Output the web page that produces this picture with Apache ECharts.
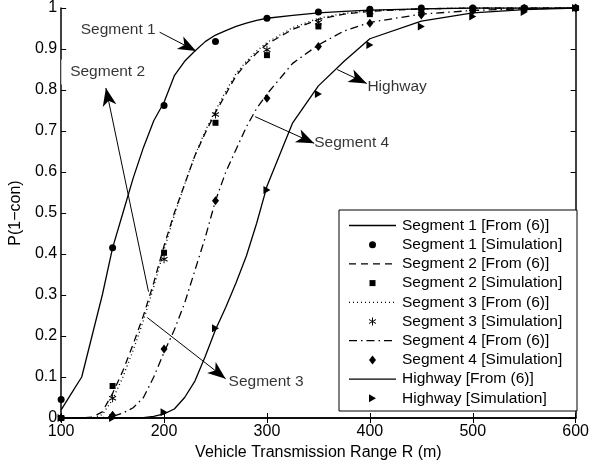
<!DOCTYPE html>
<html><head><meta charset="utf-8">
<script src="https://cdn.jsdelivr.net/npm/echarts@6/dist/echarts.min.js"></script>
<style>html,body{margin:0;padding:0;background:#fff}#c{width:592px;height:466px}</style>
</head><body><div id="c"></div>
<script>
// ---- data ----
const curveR = [100,110,120,130,140,150,160,170,180,190,200,210,220,230,240,250,260,270,280,290,300,325,350,375,400,450,500,550,600];
const seg1Curve = [0.02,0.06,0.10,0.20,0.30,0.415,0.50,0.585,0.66,0.725,0.77,0.835,0.87,0.895,0.918,0.934,0.945,0.955,0.963,0.97,0.975,0.982,0.988,0.992,0.995,0.998,1,1,1];
const seg2Curve = [0,0,0,0.002,0.015,0.06,0.115,0.18,0.25,0.33,0.42,0.5,0.57,0.64,0.695,0.745,0.79,0.835,0.865,0.89,0.912,0.948,0.972,0.985,0.992,0.998,1,1,1];
const seg3Curve = [0,0,0,0,0.008,0.045,0.1,0.165,0.238,0.32,0.41,0.495,0.57,0.64,0.7,0.75,0.797,0.84,0.87,0.895,0.916,0.952,0.975,0.987,0.993,0.998,1,1,1];
const seg4Curve = [0,0,0,0,0.001,0.004,0.012,0.025,0.05,0.1,0.16,0.215,0.28,0.36,0.44,0.53,0.6,0.655,0.71,0.755,0.79,0.865,0.91,0.944,0.965,0.985,0.994,0.998,1];
const hwCurve   = [0,0,0,0,0,0,0,0,0.001,0.004,0.01,0.022,0.05,0.09,0.15,0.215,0.27,0.33,0.395,0.475,0.565,0.72,0.81,0.87,0.925,0.968,0.988,0.996,1];

const simR = [100,150,200,250,300,350,400,450,500,550,600];
const seg1Sim = [0.045,0.415,0.762,0.918,0.975,0.99,0.997,1,1,1,1];
const seg2Sim = [0,0.078,0.403,0.72,0.885,0.955,0.985,0.99,0.995,0.998,1];
const seg3Sim = [0,0.048,0.387,0.74,0.898,0.965,0.99,0.993,0.998,1,1];
const seg4Sim = [0,0.007,0.168,0.53,0.78,0.906,0.963,0.983,0.993,0.998,1];
const hwSim   = [0,0,0.014,0.219,0.556,0.79,0.91,0.955,0.979,0.99,1];

const xTickLabels = ['100','200','300','400','500','600'];
const yTickLabels = ['0','0.1','0.2','0.3','0.4','0.5','0.6','0.7','0.8','0.9','1'];

const seriesNames = ['Segment 1 [From (6)]','Segment 1 [Simulation]','Segment 2 [From (6)]','Segment 2 [Simulation]','Segment 3 [From (6)]','Segment 3 [Simulation]','Segment 4 [From (6)]','Segment 4 [Simulation]','Highway [From (6)]','Highway [Simulation]'];

// annotations (data coordinates)
const annText = ['Segment 1','Segment 2','Segment 3','Segment 4','Highway'];
const annTextAt = [[191.9,0.946],[100,0.844],[262.7,0.089],[345.9,0.672],[397.6,0.808]];
const annTextSide = ['left','right','right','right','right'];
const annFrom = [[195.7,0.941],[184.9,0.308],[183.7,0.245],[288.5,0.735],[368.2,0.85]];
const annTo   = [[231.1,0.895],[143.5,0.805],[259.8,0.096],[345.9,0.67],[397,0.816]];

// ---- styles ----
const FONT = 'Liberation Sans, Arial, Helvetica, sans-serif';
const dashes = { solid: 'solid', dash: [7,5], dot: [1,3], dashdot: [8,4,1.5,4] };
const STAR = 'path://M0,-4L0,4M-3.5,-2L3.5,2M-3.5,2L3.5,-2';
const TRI = 'path://M0,0L9,5L0,10Z';
// arrowhead: tip at the centre of a padded 30x30 box, so the tip sits on the line end
const ARROW = 'path://M-15,-15M15,15M0,0L5.8,15L0,11L-5.8,15Z';

const zip = (xs, ys) => xs.map((x, i) => [x, ys[i]]);

function lineSeries(name, ys, dash) {
  return { name, type: 'line', data: zip(curveR, ys), symbol: 'none', smooth: false,
    lineStyle: { color: '#000', width: 1.3, type: dash }, z: 3, animation: false };
}
function simSeries(name, ys, symbol, size) {
  return { name, type: 'scatter', data: zip(simR, ys), symbol, symbolSize: size,
    itemStyle: { color: '#000', borderColor: '#000', borderWidth: symbol === STAR ? 1 : 0, opacity: 1 }, z: 4, animation: false };
}

const series = [
  lineSeries(seriesNames[0], seg1Curve, dashes.solid),
  lineSeries(seriesNames[2], seg2Curve, dashes.dash),
  lineSeries(seriesNames[4], seg3Curve, dashes.dot),
  lineSeries(seriesNames[6], seg4Curve, dashes.dashdot),
  lineSeries(seriesNames[8], hwCurve, dashes.solid),
  simSeries(seriesNames[1], seg1Sim, 'circle', 7),
  simSeries(seriesNames[3], seg2Sim, 'rect', 6),
  simSeries(seriesNames[5], seg3Sim, STAR, [7,8]),
  simSeries(seriesNames[7], seg4Sim, 'diamond', [7,9]),
  simSeries(seriesNames[9], hwSim, TRI, [7,8]),
  {
    name: 'annotations', type: 'scatter', symbolSize: 0, z: 6, animation: false, silent: true,
    data: annText.map((t, i) => ({
      name: t, value: annTextAt[i],
      label: { show: true, position: annTextSide[i], distance: 0, formatter: '{b}',
        color: '#000', fontSize: 15.5, fontFamily: FONT,
        backgroundColor: i === 1 ? '#fff' : 'transparent',
        padding: i === 1 ? [4, 1, 5, 9] : 0 }
    })),
    markLine: {
      silent: true, animation: false, symbol: ['none', ARROW], symbolSize: 36,
      label: { show: false },
      lineStyle: { color: '#000', width: 1, type: 'solid' },
      itemStyle: { color: '#000' },
      data: annFrom.map((f, i) => [{ coord: f }, { coord: annTo[i] }])
    }
  }
];

// ---- manual legend (layout only) ----
const legKinds = [
  { k: 'line', d: dashes.solid }, { k: 'circle' },
  { k: 'line', d: dashes.dash }, { k: 'rect' },
  { k: 'line', d: dashes.dot }, { k: 'star' },
  { k: 'line', d: dashes.dashdot }, { k: 'diamond' },
  { k: 'line', d: dashes.solid }, { k: 'tri' }
];
const LX = 339, LY = 210, LW = 238, LH = 201, ROW0 = 225.5, ROWH = 19.2;
const legendEls = [{ type: 'rect', shape: { x: LX, y: LY, width: LW, height: LH },
  style: { fill: '#fff', stroke: '#000', lineWidth: 1 }, z: 50 }];
legKinds.forEach((it, i) => {
  const cy = ROW0 + i * ROWH, cx = 372.5;
  if (it.k === 'line') {
    legendEls.push({ type: 'line', shape: { x1: 349, y1: cy, x2: 396, y2: cy },
      style: { stroke: '#000', lineWidth: 1.3, lineDash: it.d === 'solid' ? null : it.d }, z: 51 });
  } else if (it.k === 'circle') {
    legendEls.push({ type: 'circle', shape: { cx, cy, r: 3.5 }, style: { fill: '#000' }, z: 51 });
  } else if (it.k === 'rect') {
    legendEls.push({ type: 'rect', shape: { x: cx - 3, y: cy - 3, width: 6, height: 6 }, style: { fill: '#000' }, z: 51 });
  } else if (it.k === 'star') {
    [[0,-4,0,4],[-3.5,-2,3.5,2],[-3.5,2,3.5,-2]].forEach(s => legendEls.push({ type: 'line',
      shape: { x1: cx + s[0], y1: cy + s[1], x2: cx + s[2], y2: cy + s[3] }, style: { stroke: '#000', lineWidth: 1 }, z: 51 }));
  } else if (it.k === 'diamond') {
    legendEls.push({ type: 'polygon', shape: { points: [[cx, cy - 4.5],[cx + 3.5, cy],[cx, cy + 4.5],[cx - 3.5, cy]] }, style: { fill: '#000' }, z: 51 });
  } else if (it.k === 'tri') {
    legendEls.push({ type: 'polygon', shape: { points: [[cx - 3.5, cy - 4],[cx + 3.5, cy],[cx - 3.5, cy + 4]] }, style: { fill: '#000' }, z: 51 });
  }
  legendEls.push({ type: 'text', x: 402, y: cy, style: { text: seriesNames[i], fill: '#000',
    font: '15.5px ' + FONT, textVerticalAlign: 'middle', verticalAlign: 'middle', textAlign: 'left', align: 'left' }, z: 51 });
});

const axisCommon = {
  min: 0, max: 1, interval: 0.1,
  axisLine: { show: true, lineStyle: { color: '#000', width: 1.5 } },
  axisTick: { show: true, inside: true, length: 5, lineStyle: { color: '#000', width: 1 } },
  splitLine: { show: false }
};

const option = {
  animation: false,
  backgroundColor: '#fff',
  textStyle: { fontFamily: FONT },
  grid: { left: 58, right: 12, top: 8, bottom: 48, containLabel: false },
  xAxis: [
    { type: 'value', min: 100, max: 600, interval: 100, position: 'bottom',
      name: 'Vehicle Transmission Range R (m)', nameLocation: 'middle', nameGap: 26,
      nameTextStyle: { color: '#000', fontSize: 16, fontFamily: FONT },
      axisLine: axisCommon.axisLine, axisTick: axisCommon.axisTick, splitLine: { show: false },
      axisLabel: { color: '#000', fontSize: 16, fontFamily: FONT, margin: 6,
        formatter: v => xTickLabels[Math.round((v - 100) / 100)] } },
    { type: 'value', min: 100, max: 600, interval: 100, position: 'top',
      axisLine: axisCommon.axisLine, axisTick: axisCommon.axisTick, splitLine: { show: false },
      axisLabel: { show: false } }
  ],
  yAxis: [
    Object.assign({ type: 'value', position: 'left',
      name: 'P(1\u2212con)', nameLocation: 'middle', nameGap: 34,
      nameTextStyle: { color: '#000', fontSize: 16, fontFamily: FONT },
      axisLabel: { color: '#000', fontSize: 16, fontFamily: FONT, margin: 4,
        formatter: v => yTickLabels[Math.round(v * 10)] } }, axisCommon),
    Object.assign({ type: 'value', position: 'right', axisLabel: { show: false } }, axisCommon)
  ],
  series,
  graphic: { elements: legendEls }
};

const chart = echarts.init(document.getElementById('c'), null, { renderer: 'canvas' });
chart.setOption(option);
</script></body></html>
